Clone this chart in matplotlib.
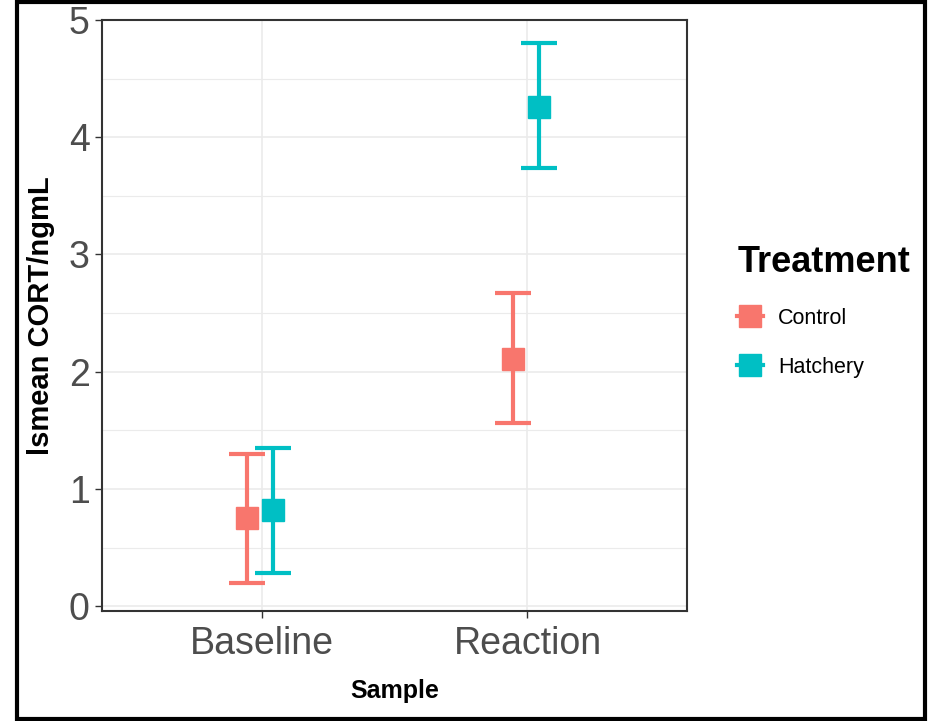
import matplotlib.pyplot as plt
from matplotlib.lines import Line2D
from matplotlib.patches import Rectangle
import numpy as np

# data
samples = ['Baseline', 'Reaction']
treatments = ['Control', 'Hatchery']
means = {'Control': [0.75, 2.11], 'Hatchery': [0.82, 4.26]}
lower = {'Control': [0.20, 1.56], 'Hatchery': [0.28, 3.74]}
upper = {'Control': [1.30, 2.67], 'Hatchery': [1.35, 4.80]}

colors = {'Control': '#F8766D', 'Hatchery': '#00BFC4'}
dodge = {'Control': -0.056, 'Hatchery': 0.043}

plt.rcParams['font.family'] = ['Liberation Sans', 'DejaVu Sans']

fig = plt.figure(figsize=(9.3, 7.21), dpi=100)
ax = fig.add_axes([0.1097, 0.1526, 0.629, 0.8197])

xpos = np.arange(1, len(samples) + 1)
for t in treatments:
    x = xpos + dodge[t]
    m = np.array(means[t])
    err = [m - np.array(lower[t]), np.array(upper[t]) - m]
    ax.errorbar(x, m, yerr=err, fmt='none', ecolor=colors[t], elinewidth=3,
                capsize=13, capthick=3, zorder=3)
    ax.plot(x, m, 's', color=colors[t], markersize=16, zorder=4)

ax.set_xlim(0.4, 2.6)
ax.set_ylim(-0.04, 5.0)
ax.set_xticks(xpos)
ax.set_xticklabels(samples)
ax.set_yticks(range(0, 6))
ax.set_yticks(np.arange(0.5, 5, 1), minor=True)
ax.tick_params(axis='both', which='major', length=5, width=1, color='#333333',
               labelsize=27, labelcolor='#4D4D4D')
ax.tick_params(axis='y', which='minor', length=0)
ax.tick_params(axis='x', pad=6)
ax.tick_params(axis='y', pad=4)
ax.grid(True, which='major', color='#EBEBEB', linewidth=1.2)
ax.grid(True, which='minor', axis='y', color='#EBEBEB', linewidth=0.8)
ax.set_axisbelow(True)
for s in ax.spines.values():
    s.set_color('#333333')
    s.set_linewidth(1.5)

ax.set_xlabel('Sample', fontsize=18, fontweight='bold', labelpad=12)
ax.set_ylabel('lsmean CORT/ngmL', fontsize=21, fontweight='bold', labelpad=10)

# legend
handles = [Line2D([0], [0], color=colors[t], marker='s', markersize=16, linewidth=3)
           for t in treatments]
leg = fig.legend(handles, treatments, loc='upper left', bbox_to_anchor=(0.772, 0.687),
                 frameon=False, title='Treatment', fontsize=15.5, handlelength=1.2,
                 labelspacing=1.3, handletextpad=0.7, alignment='left')
leg.get_title().set_fontsize(26)
leg.get_title().set_fontweight('bold')

# outer frame
fig.patches.append(Rectangle((0.018, 0.003), 0.977, 0.994, transform=fig.transFigure,
                             fill=False, edgecolor='black', linewidth=3))

fig.savefig('out.png', dpi=100)
